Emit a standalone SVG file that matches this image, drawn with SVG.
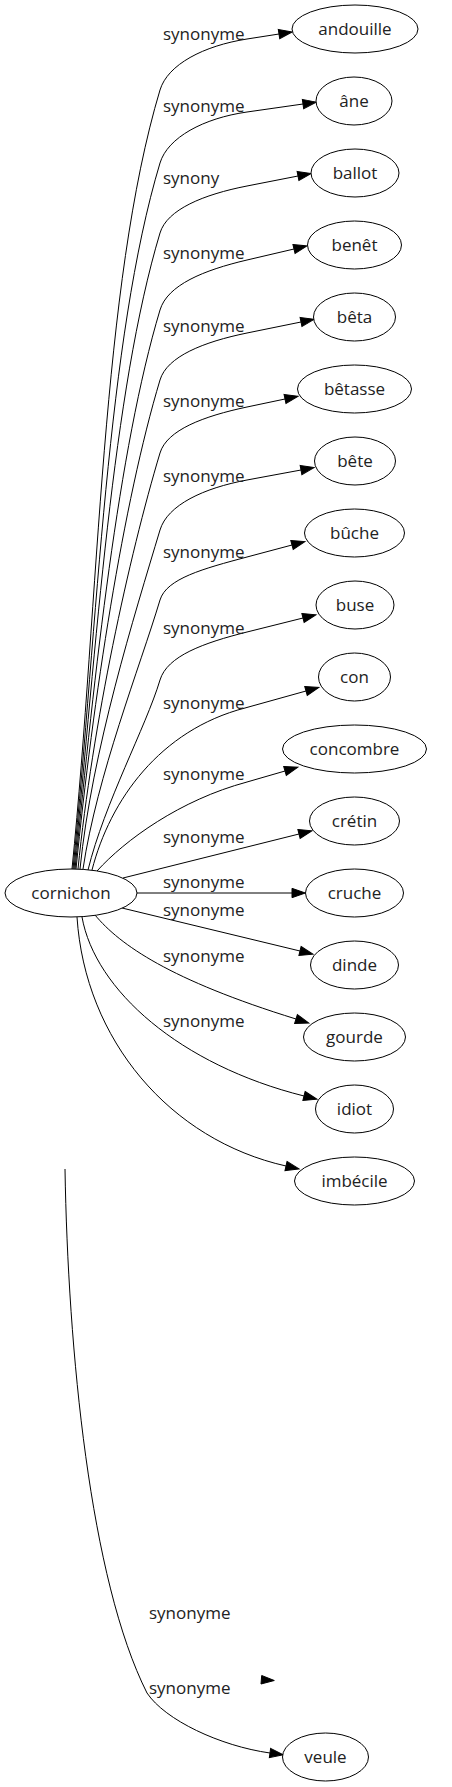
<svg xmlns="http://www.w3.org/2000/svg" width="452" height="1787" viewBox="0 0 452 1787">
<style>
.n ellipse{fill:#fff;stroke:#000;stroke-width:1}
.n text{font-family:"Open Sans","DejaVu Sans",sans-serif;font-size:17px;fill:#222;text-anchor:middle}
.e path{fill:none;stroke:#000;stroke-width:1;marker-end:url(#arr)}
.lbl{font-family:"Open Sans","DejaVu Sans",sans-serif;font-size:17px;fill:#222}
</style>
<defs>
<marker id="arr" markerUnits="userSpaceOnUse" markerWidth="15" markerHeight="11" viewBox="0 -5.5 15 11" refX="0" refY="0" orient="auto" overflow="visible">
<path d="M0,-4.67 L13.33,0 L0,4.67 z" fill="#000" stroke="#000" stroke-width="1"/>
</marker>
</defs>
<rect width="452" height="1787" fill="#fff"/>
<g id="connectors" class="e">
<path d="M72,869 C99.3,596.3 101.6,284.8 160,90 C167.7,64.5 203.5,45.8 247,39 L279,34"/>
<path d="M73,869 C97.7,621.9 107,339.5 160,163 C167.7,137.5 203.5,118.2 247,112 L303,104"/>
<path d="M74,869 C96.3,646.4 112.3,392 160,233 C167,209.5 203.5,194.5 247,186 L298,176"/>
<path d="M75,869 C94.6,673.3 118.1,449.8 160,310 C167.5,285 203.5,270.2 247,260 L294,249"/>
<path d="M76,869 C93.1,697.8 123.3,502.3 160,380 C167,356.5 203.5,341.9 247,333 L301,322"/>
<path d="M78,869 C92.6,723.4 128.8,557 160,453 C166.9,430 203.5,416.2 247,407 L285,399"/>
<path d="M80,869 C91.9,750.4 134.6,614.8 160,530 C167.5,505 203.5,488.1 247,480 L301,470"/>
<path d="M83,869 C97.1,774.9 139.8,667.3 160,600 C166.5,578.5 203.5,568.6 247,557 L292,545"/>
<path d="M88,870 C104.5,802.9 145.8,727.3 160,680 C167.2,656 203.5,642.9 247,632 L303,618"/>
<path d="M92,870 C110,800 160,730 245,708 L306,691"/>
<path d="M97,871 C125,840 180,800 247,782 L285,771"/>
<path d="M123,878 L299,834"/>
<path d="M137,893 L292,893"/>
<path d="M122,908 L300,951"/>
<path d="M95,915 C120,945 170,980 296,1019"/>
<path d="M82,917 C95,990 180,1065 304,1096"/>
<path d="M77,917 C85,1040 170,1140 286,1166"/>
<path d="M65,1169 C68,1350 90,1580 147,1693 C165,1720 220,1746 270,1753"/>
<polygon points="261.7,1675.5 274.3,1680.5 261,1684" fill="#000" stroke="#000" stroke-width="1"/>
<text class="lbl" x="163" y="40">synonyme</text>
<text class="lbl" x="163" y="112">synonyme</text>
<text class="lbl" x="163" y="184">synony</text>
<text class="lbl" x="163" y="259">synonyme</text>
<text class="lbl" x="163" y="332">synonyme</text>
<text class="lbl" x="163" y="407">synonyme</text>
<text class="lbl" x="163" y="482">synonyme</text>
<text class="lbl" x="163" y="558">synonyme</text>
<text class="lbl" x="163" y="634">synonyme</text>
<text class="lbl" x="163" y="709">synonyme</text>
<text class="lbl" x="163" y="780">synonyme</text>
<text class="lbl" x="163" y="843">synonyme</text>
<text class="lbl" x="163" y="888">synonyme</text>
<text class="lbl" x="163" y="916">synonyme</text>
<text class="lbl" x="163" y="962">synonyme</text>
<text class="lbl" x="163" y="1027">synonyme</text>
<text class="lbl" x="149" y="1619">synonyme</text>
<text class="lbl" x="149" y="1694">synonyme</text>
</g>
<g id="cornichon" class="n"><ellipse cx="71" cy="893" rx="66" ry="24"/><text x="71" y="899">cornichon</text></g>
<g id="andouille" class="n"><ellipse cx="355" cy="29" rx="63" ry="24"/><text x="355" y="35">andouille</text></g>
<g id="ane" class="n"><ellipse cx="354" cy="101" rx="38" ry="24"/><text x="354" y="107">âne</text></g>
<g id="ballot" class="n"><ellipse cx="355" cy="173" rx="44" ry="24"/><text x="355" y="179">ballot</text></g>
<g id="benet" class="n"><ellipse cx="354.5" cy="245" rx="47" ry="24"/><text x="354.5" y="251">benêt</text></g>
<g id="beta" class="n"><ellipse cx="354.5" cy="317" rx="41" ry="24"/><text x="354.5" y="323">bêta</text></g>
<g id="betasse" class="n"><ellipse cx="354.5" cy="389" rx="57" ry="24"/><text x="354.5" y="395">bêtasse</text></g>
<g id="bete" class="n"><ellipse cx="355" cy="461" rx="40.5" ry="24"/><text x="355" y="467">bête</text></g>
<g id="buche" class="n"><ellipse cx="354.5" cy="533" rx="50" ry="24"/><text x="354.5" y="539">bûche</text></g>
<g id="buse" class="n"><ellipse cx="355" cy="605" rx="39" ry="24"/><text x="355" y="611">buse</text></g>
<g id="con" class="n"><ellipse cx="354.5" cy="677" rx="36" ry="24"/><text x="354.5" y="683">con</text></g>
<g id="concombre" class="n"><ellipse cx="354.5" cy="749" rx="72" ry="24"/><text x="354.5" y="755">concombre</text></g>
<g id="cretin" class="n"><ellipse cx="354.5" cy="821" rx="45" ry="24"/><text x="354.5" y="827">crétin</text></g>
<g id="cruche" class="n"><ellipse cx="354.5" cy="893" rx="49" ry="24"/><text x="354.5" y="899">cruche</text></g>
<g id="dinde" class="n"><ellipse cx="354.5" cy="965" rx="44" ry="24"/><text x="354.5" y="971">dinde</text></g>
<g id="gourde" class="n"><ellipse cx="354.5" cy="1037" rx="51" ry="24"/><text x="354.5" y="1043">gourde</text></g>
<g id="idiot" class="n"><ellipse cx="354.5" cy="1109" rx="39" ry="24"/><text x="354.5" y="1115">idiot</text></g>
<g id="imbecile" class="n"><ellipse cx="354.5" cy="1181" rx="60" ry="24"/><text x="354.5" y="1187">imbécile</text></g>
<g id="veule" class="n"><ellipse cx="325.5" cy="1757" rx="43" ry="24"/><text x="325.5" y="1763">veule</text></g>
</svg>
